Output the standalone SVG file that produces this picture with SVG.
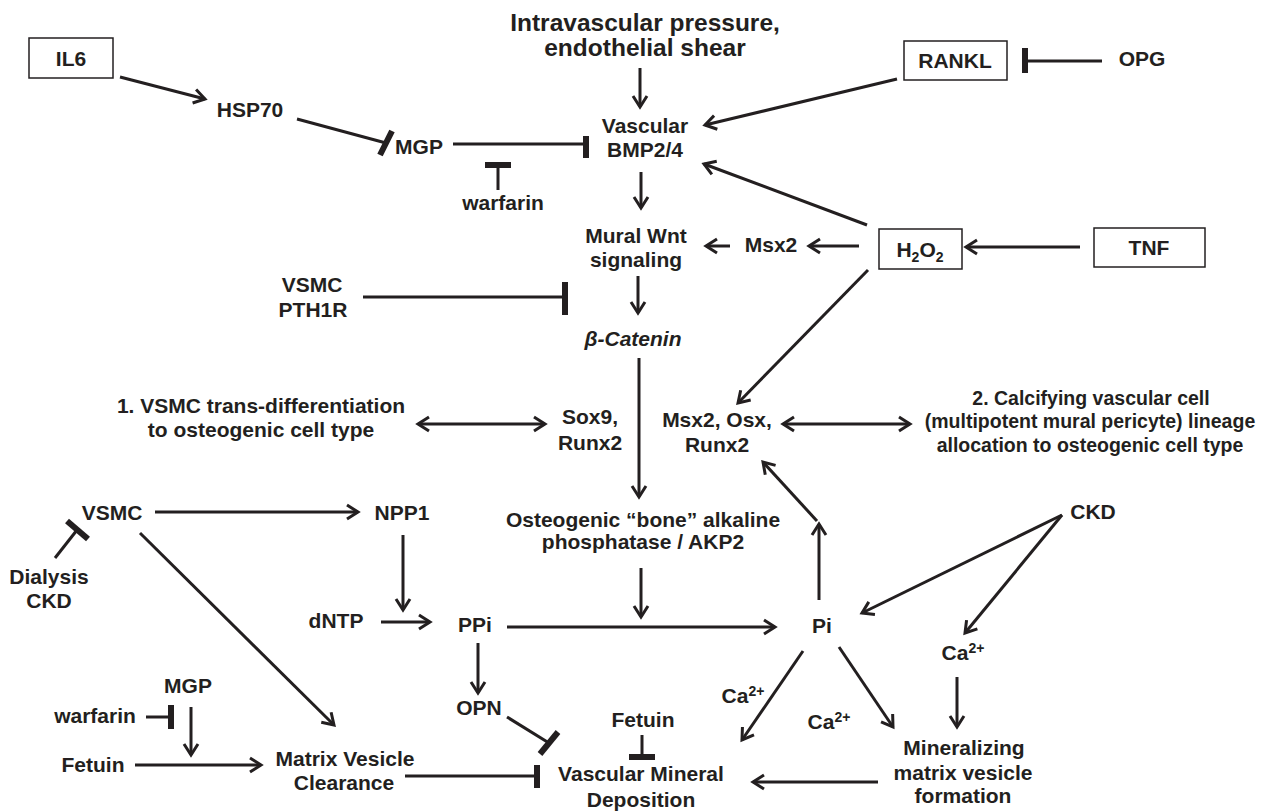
<svg xmlns="http://www.w3.org/2000/svg" width="1266" height="811" viewBox="0 0 1266 811">
<defs>
<style>
text{font-family:"Liberation Sans",Arial,sans-serif;font-weight:bold;font-size:21px;fill:#231f20;text-anchor:middle}
.title{font-size:24.5px}
.small{font-size:19.5px}
.box{fill:#fff;stroke:#231f20;stroke-width:1.5}
.c{stroke:#231f20;stroke-width:3;fill:none}
.a{marker-end:url(#arr)}
.d{marker-start:url(#arr);marker-end:url(#arr)}
.bar{stroke:#231f20;stroke-width:6;fill:none}
</style>
<marker id="arr" markerUnits="userSpaceOnUse" markerWidth="16" markerHeight="18" viewBox="0 0 16 18" refX="13" refY="9" orient="auto-start-reverse">
<path d="M2,2 L13,9 L2,16" fill="none" stroke="#231f20" stroke-width="3"/>
</marker>
</defs>
<rect width="1266" height="811" fill="#fff"/>
<g id="connectors">
<line class="c a" x1="120" y1="77" x2="205" y2="99"/>
<line class="c" x1="297" y1="119" x2="386" y2="143"/>
<line class="bar" x1="392" y1="131" x2="380" y2="155"/>
<line class="c" x1="453" y1="144" x2="586" y2="144"/>
<line class="bar" x1="586" y1="136" x2="586" y2="158"/>
<line class="c" x1="498" y1="190" x2="498" y2="165"/>
<line class="bar" x1="485" y1="165" x2="511" y2="165"/>
<line class="c a" x1="640" y1="68" x2="640" y2="107"/>
<line class="c a" x1="897" y1="79" x2="705" y2="125"/>
<line class="c" x1="1102" y1="61" x2="1025" y2="61"/>
<line class="bar" x1="1025" y1="48" x2="1025" y2="73"/>
<line class="c a" x1="867" y1="225" x2="704" y2="164"/>
<line class="c a" x1="641" y1="172" x2="641" y2="208"/>
<line class="c a" x1="1080" y1="247" x2="966" y2="247"/>
<line class="c a" x1="859" y1="246" x2="809" y2="246"/>
<line class="c a" x1="730" y1="246" x2="706" y2="246"/>
<line class="c a" x1="638" y1="276" x2="638" y2="313"/>
<line class="c" x1="363" y1="297" x2="565" y2="297"/>
<line class="bar" x1="565" y1="282" x2="565" y2="315"/>
<line class="c a" x1="868" y1="270" x2="738" y2="403"/>
<line class="c a" x1="639" y1="358" x2="639" y2="497"/>
<line class="c d" x1="418" y1="424" x2="545" y2="424"/>
<line class="c d" x1="783" y1="424" x2="910" y2="424"/>
<line class="c a" x1="155" y1="512" x2="358" y2="512"/>
<line class="c" x1="55" y1="558" x2="77" y2="530"/>
<line class="bar" x1="67" y1="521" x2="88" y2="539"/>
<line class="c a" x1="140" y1="533" x2="334" y2="725"/>
<line class="c a" x1="403" y1="535" x2="403" y2="610"/>
<line class="c a" x1="381" y1="622" x2="430" y2="622"/>
<line class="c a" x1="641" y1="568" x2="641" y2="617"/>
<line class="c a" x1="507" y1="627" x2="775" y2="627"/>
<line class="c a" x1="819" y1="600" x2="819" y2="524"/>
<line class="c a" x1="817" y1="521" x2="763" y2="462"/>
<line class="c a" x1="1062" y1="515" x2="862" y2="613"/>
<line class="c a" x1="1062" y1="515" x2="965" y2="633"/>
<line class="c a" x1="957" y1="677" x2="957" y2="727"/>
<line class="c a" x1="839" y1="647" x2="893" y2="727"/>
<line class="c a" x1="803" y1="651" x2="742" y2="740"/>
<line class="c a" x1="878" y1="782" x2="753" y2="782"/>
<line class="c a" x1="478" y1="643" x2="478" y2="693"/>
<line class="c" x1="507" y1="717" x2="549" y2="743"/>
<line class="bar" x1="558" y1="732" x2="540" y2="754"/>
<line class="c" x1="642" y1="735" x2="642" y2="757"/>
<line class="bar" x1="629" y1="757" x2="655" y2="757"/>
<line class="c" x1="405" y1="776" x2="537" y2="776"/>
<line class="bar" x1="537" y1="765" x2="537" y2="788"/>
<line class="c a" x1="135" y1="765" x2="261" y2="765"/>
<line class="c a" x1="191" y1="707" x2="191" y2="755"/>
<line class="c" x1="146" y1="717" x2="171" y2="717"/>
<line class="bar" x1="171" y1="705" x2="171" y2="729"/>
</g>
<g id="il6"><rect class="box" x="29" y="38" width="84" height="40"/><text x="71" y="66">IL6</text></g>
<g id="hsp70"><text x="250" y="117">HSP70</text></g>
<g id="title"><text class="title" x="645" y="31">Intravascular pressure,</text><text class="title" x="645" y="56">endothelial shear</text></g>
<g id="rankl"><rect class="box" x="904" y="41" width="103" height="39"/><text x="955" y="68">RANKL</text></g>
<g id="opg"><text x="1142" y="66">OPG</text></g>
<g id="mgp1"><text x="419" y="154">MGP</text></g>
<g id="bmp"><text x="645" y="133">Vascular</text><text x="645" y="157">BMP2/4</text></g>
<g id="warfarin1"><text x="503" y="210">warfarin</text></g>
<g id="h2o2"><rect class="box" x="879" y="229" width="83" height="40"/><text x="920" y="257">H<tspan font-size="14" dy="5">2</tspan><tspan dy="-5">O</tspan><tspan font-size="14" dy="5">2</tspan></text></g>
<g id="tnf"><rect class="box" x="1094" y="228" width="111" height="39"/><text x="1149" y="255">TNF</text></g>
<g id="msx2"><text x="771" y="252">Msx2</text></g>
<g id="wnt"><text x="636" y="243">Mural Wnt</text><text x="636" y="267">signaling</text></g>
<g id="pth1r"><text x="312" y="292">VSMC</text><text x="313" y="317">PTH1R</text></g>
<g id="bcat"><text x="633" y="346" font-style="italic">β-Catenin</text></g>
<g id="path1"><text x="261" y="413">1. VSMC trans-differentiation</text><text x="261" y="437">to osteogenic cell type</text></g>
<g id="sox9"><text x="590" y="424">Sox9,</text><text x="590" y="450">Runx2</text></g>
<g id="msxosx"><text x="717" y="427">Msx2, Osx,</text><text x="717" y="452">Runx2</text></g>
<g id="path2"><text class="small" x="1091" y="405">2. Calcifying vascular cell</text><text class="small" x="1090" y="428">(multipotent mural pericyte) lineage</text><text class="small" x="1090" y="452">allocation to osteogenic cell type</text></g>
<g id="vsmc"><text x="112" y="520">VSMC</text></g>
<g id="npp1"><text x="402" y="520">NPP1</text></g>
<g id="dialysis"><text x="49" y="584">Dialysis</text><text x="49" y="608">CKD</text></g>
<g id="alp"><text x="643" y="527">Osteogenic “bone” alkaline</text><text x="643" y="549">phosphatase / AKP2</text></g>
<g id="ckd"><text x="1093" y="519">CKD</text></g>
<g id="dntp"><text x="336" y="628">dNTP</text></g>
<g id="ppi"><text x="475" y="632">PPi</text></g>
<g id="pi"><text x="822" y="633">Pi</text></g>
<g id="ca1"><text x="963" y="660">Ca<tspan font-size="14" dy="-7">2+</tspan></text></g>
<g id="opn"><text x="479" y="715">OPN</text></g>
<g id="ca2"><text x="743" y="703">Ca<tspan font-size="14" dy="-7">2+</tspan></text></g>
<g id="ca3"><text x="829" y="729">Ca<tspan font-size="14" dy="-7">2+</tspan></text></g>
<g id="fetuin1"><text x="643" y="727">Fetuin</text></g>
<g id="mgp2"><text x="188" y="693">MGP</text></g>
<g id="warfarin2"><text x="95" y="723">warfarin</text></g>
<g id="fetuin2"><text x="93" y="772">Fetuin</text></g>
<g id="mvc"><text x="345" y="766">Matrix Vesicle</text><text x="344" y="790">Clearance</text></g>
<g id="vmd"><text x="641" y="781">Vascular Mineral</text><text x="641" y="807">Deposition</text></g>
<g id="mineral"><text x="964" y="755">Mineralizing</text><text x="963" y="780">matrix vesicle</text><text x="963" y="803">formation</text></g>
</svg>
